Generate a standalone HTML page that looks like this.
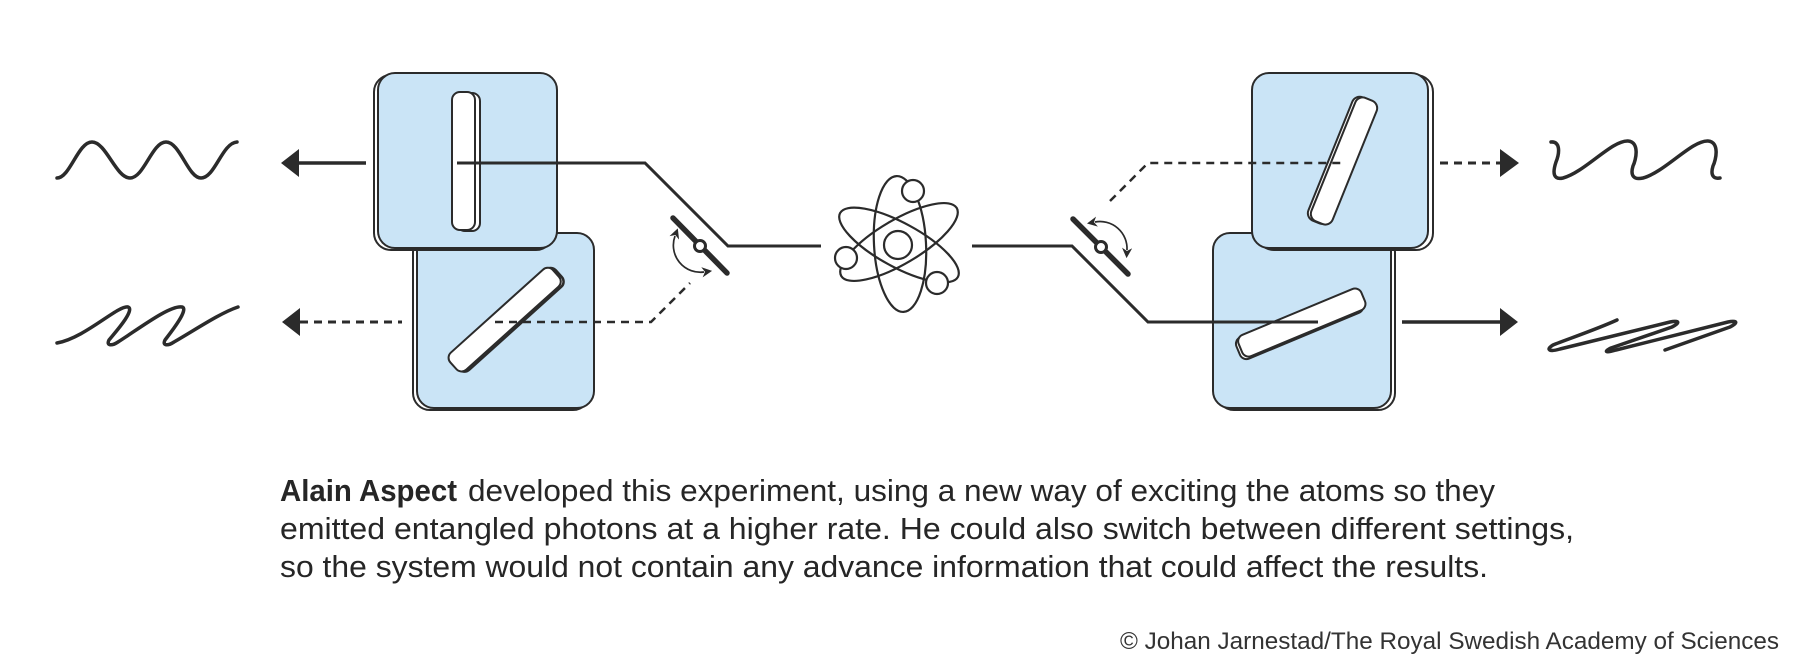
<!DOCTYPE html>
<html>
<head>
<meta charset="utf-8">
<style>
  html, body { margin: 0; padding: 0; background: #ffffff; }
  body { width: 1800px; height: 668px; overflow: hidden; }
  svg { display: block; }
  .t { font-family: "Liberation Sans", "DejaVu Sans", sans-serif; fill: #262626; }
</style>
</head>
<body>
<svg width="1800" height="668" viewBox="0 0 1800 668" xmlns="http://www.w3.org/2000/svg">
  <defs>
    <marker id="ah" viewBox="0 0 10 10" refX="2" refY="5" markerWidth="6" markerHeight="6" orient="auto-start-reverse" markerUnits="strokeWidth">
      <path d="M0,0 L10,5 L0,10 L3,5 Z" fill="#2b2b2b"/>
    </marker>
  </defs>

  <g stroke="#2b2b2b" stroke-linecap="round" stroke-linejoin="round" fill="none">
    <!-- Left waves -->
    <path d="M57,178 C70,178 78,142 92,142 C106,142 116,178 130,178 C144,178 152,142 166,142 C180,142 188,178 201,178 C215,178 222,143 237,142" stroke-width="3.5"/>
    <path d="M57,343 C85,338 118,305 128,307 C136,310 112,336 109,340 C106,346 112,346 118,342 C140,328 170,305 182,307 C190,309 168,336 165,340 C162,346 168,346 174,342 C195,330 220,313 238,307" stroke-width="3.5"/>

    <!-- Right waves -->
    <path d="M1551,142 C1560,141 1560,152 1556,162 C1552,174 1554,180 1563,178 C1585,172 1612,140 1628,141 C1640,142 1636,160 1633,166 C1630,176 1634,180 1643,178 C1665,172 1692,140 1708,141 C1720,142 1716,160 1713,166 C1710,176 1714,179 1720,178" stroke-width="3.5"/>
    <path d="M1617,320 C1595,330 1565,340 1553,345 C1545,350 1550,352 1560,349 L1670,322 C1680,320 1680,323 1672,327 L1611,348 C1603,352 1606,353 1616,350 L1728,322 C1738,320 1738,323 1730,327 L1665,350" stroke-width="3.5"/>

    <!-- outgoing arrows lines -->
    <path d="M299,163 H366" stroke-width="3.5" stroke-linecap="butt"/>
    <path d="M300,322 H402" stroke-width="3" stroke-dasharray="8 6" stroke-linecap="butt"/>
    <path d="M1440,163 H1500" stroke-width="3" stroke-dasharray="8 6" stroke-linecap="butt"/>
    <path d="M1402,322 H1500" stroke-width="3.5" stroke-linecap="butt"/>
  </g>
  <g fill="#2b2b2b">
    <polygon points="281,163 299,149 299,177"/>
    <polygon points="282,322 300,308 300,336"/>
    <polygon points="1519,163 1500,149 1500,177"/>
    <polygon points="1518,322 1500,308 1500,336"/>
  </g>

  <!-- LEFT boxes -->
  <g stroke="#2b2b2b" stroke-width="2">
    <!-- lower-left (behind) -->
    <rect x="413" y="235" width="177" height="175" rx="17" fill="#ffffff"/>
    <rect x="417" y="233" width="177" height="175" rx="17" fill="#cae4f6"/>
    <!-- diagonal slit -->
    <g transform="translate(505,320) rotate(-42)">
      <rect x="-67" y="-10" width="138" height="23" rx="7" fill="#ffffff" stroke-width="2.5"/>
      <rect x="-69" y="-12" width="138" height="23" rx="7" fill="#ffffff"/>
    </g>
    <!-- top-left (front) -->
    <rect x="374" y="75" width="179" height="175" rx="17" fill="#ffffff"/>
    <rect x="378" y="73" width="179" height="175" rx="17" fill="#cae4f6"/>
    <!-- vertical slit -->
    <rect x="457" y="93" width="23" height="138" rx="8" fill="#ffffff"/>
    <rect x="452" y="92" width="23" height="138" rx="8" fill="#ffffff"/>
  </g>

  <!-- RIGHT boxes -->
  <g stroke="#2b2b2b" stroke-width="2">
    <!-- lower-right (behind) -->
    <rect x="1217" y="235" width="178" height="175" rx="17" fill="#ffffff"/>
    <rect x="1213" y="233" width="178" height="175" rx="17" fill="#cae4f6"/>
    <g transform="translate(1302,323) rotate(-22.6)">
      <rect x="-69.5" y="-10.5" width="133" height="23" rx="7" fill="#ffffff"/>
      <rect x="-66.5" y="-12" width="133" height="23" rx="7" fill="#ffffff"/>
    </g>
    <!-- top-right (front) -->
    <rect x="1257" y="75" width="176" height="175" rx="17" fill="#ffffff"/>
    <rect x="1252" y="73" width="176" height="175" rx="17" fill="#cae4f6"/>
    <g transform="translate(1344,161) rotate(22)">
      <rect x="-14.5" y="-66" width="23" height="133" rx="8" fill="#ffffff"/>
      <rect x="-11.5" y="-66.5" width="23" height="133" rx="8" fill="#ffffff"/>
    </g>
  </g>

  <!-- beams -->
  <g stroke="#2b2b2b" fill="none" stroke-linejoin="miter">
    <path d="M457,163 H645 L728,246 H821" stroke-width="3"/>
    <path d="M495,322 H651 L690,283" stroke-width="2.5" stroke-dasharray="8 6"/>
    <path d="M972,246 H1072 L1148,322 H1318" stroke-width="3"/>
    <path d="M1110,201 L1148,163 H1343" stroke-width="2.5" stroke-dasharray="8 6"/>
  </g>

  <!-- switches -->
  <g stroke="#2b2b2b" stroke-linecap="round">
    <path d="M673,218 L727,273" stroke-width="5.5"/>
    <circle cx="700" cy="246" r="5.5" fill="#ffffff" stroke-width="3"/>
    <path d="M1073,219 L1128,274" stroke-width="5.5"/>
    <circle cx="1101" cy="247" r="5.5" fill="#ffffff" stroke-width="3"/>
  </g>
  <g stroke="#2b2b2b" fill="none" stroke-width="1.7">
    <path d="M675,236 A27,27 0 0 0 704,272" marker-start="url(#ah)" marker-end="url(#ah)"/>
    <path d="M1095,222 A27,27 0 0 1 1127,250" marker-start="url(#ah)" marker-end="url(#ah)"/>
  </g>

  <!-- atom -->
  <g stroke="#2b2b2b" fill="none" stroke-width="2.2">
    <ellipse cx="900" cy="244" rx="26" ry="68" transform="rotate(-3 900 244)"/>
    <ellipse cx="899" cy="245" rx="67" ry="22" transform="rotate(28.5 899 245)"/>
    <ellipse cx="899" cy="242" rx="67" ry="22" transform="rotate(-30.5 899 242)"/>
    <circle cx="898" cy="245" r="14" fill="#ffffff"/>
    <circle cx="913" cy="191" r="11" fill="#ffffff"/>
    <circle cx="846" cy="258" r="11" fill="#ffffff"/>
    <circle cx="937" cy="283" r="11" fill="#ffffff"/>
  </g>

  <!-- text -->
  <text class="t" x="280" y="501" font-size="31" font-weight="bold" textLength="177" lengthAdjust="spacingAndGlyphs">Alain Aspect</text>
  <text class="t" x="468" y="501" font-size="31" textLength="1027" lengthAdjust="spacingAndGlyphs">developed this experiment, using a new way of exciting the atoms so they</text>
  <text class="t" x="280" y="539" font-size="31" textLength="1294" lengthAdjust="spacingAndGlyphs">emitted entangled photons at a higher rate. He could also switch between different settings,</text>
  <text class="t" x="280" y="577" font-size="31" textLength="1208" lengthAdjust="spacingAndGlyphs">so the system would not contain any advance information that could affect the results.</text>

  <text class="t" x="1120" y="649" font-size="24" textLength="659" lengthAdjust="spacingAndGlyphs" style="fill:#333333">© Johan Jarnestad/The Royal Swedish Academy of Sciences</text>
</svg>
</body>
</html>
